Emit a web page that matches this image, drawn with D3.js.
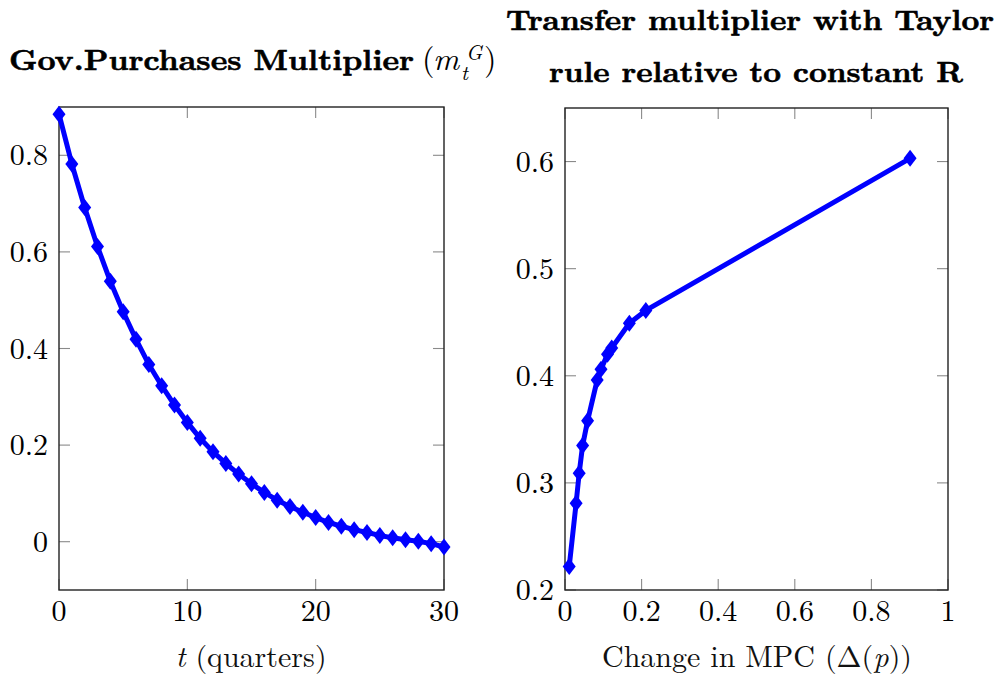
<!DOCTYPE html>
<html>
<head>
<meta charset="utf-8">
<script src="https://cdn.jsdelivr.net/npm/d3@7"></script>
<style>
  html, body { margin: 0; padding: 0; background: #fff; }
  svg { display: block; }
</style>
</head>
<body>
<svg id="chart" width="1004" height="676"></svg>
<script>
// Government purchases multiplier by quarter
const quarters = [0,1,2,3,4,5,6,7,8,9,10,11,12,13,14,15,16,17,18,19,20,21,22,23,24,25,26,27,28,29,30];
const govMultiplier = [0.885,0.782,0.692,0.611,0.539,0.476,0.419,0.367,0.323,0.283,0.247,0.214,0.186,0.162,0.140,0.120,0.102,0.086,0.073,0.061,0.050,0.040,0.032,0.025,0.019,0.013,0.008,0.004,0.001,-0.004,-0.011];

// Transfer multiplier (Taylor rule relative to constant R) by change in MPC
const mpcChange = [0.011,0.029,0.037,0.046,0.059,0.084,0.094,0.111,0.122,0.168,0.211,0.901];
const taylorRelative = [0.222,0.281,0.309,0.335,0.358,0.396,0.406,0.420,0.426,0.449,0.461,0.603];

// Axis ticks
const leftXTicks = [0,10,20,30];
const leftYTicks = [0,0.2,0.4,0.6,0.8];
const rightXTicks = [0,0.2,0.4,0.6,0.8,1];
const rightYTicks = [0.2,0.3,0.4,0.5,0.6];

const FONT = "'Latin Modern Roman', 'Liberation Serif', serif";
const svg = d3.select("#chart");
const fmt = v => (v === 0 ? "0" : String(+v.toFixed(2)));

function panel(opts) {
  const { x0, x1, y0, y1, xDomain, yDomain, xTicks, yTicks, xs, ys } = opts;
  const x = d3.scaleLinear().domain(xDomain).range([x0, x1]);
  const y = d3.scaleLinear().domain(yDomain).range([y1, y0]);
  const g = svg.append("g");
  const tickLen = 11;

  // inside ticks on all four sides
  const tk = g.append("g").attr("stroke", "#8a8a8a").attr("stroke-width", 1.1);
  xTicks.forEach(v => {
    tk.append("line").attr("x1", x(v)).attr("x2", x(v)).attr("y1", y1).attr("y2", y1 - tickLen);
    tk.append("line").attr("x1", x(v)).attr("x2", x(v)).attr("y1", y0).attr("y2", y0 + tickLen);
  });
  yTicks.forEach(v => {
    tk.append("line").attr("x1", x0).attr("x2", x0 + tickLen).attr("y1", y(v)).attr("y2", y(v));
    tk.append("line").attr("x1", x1).attr("x2", x1 - tickLen).attr("y1", y(v)).attr("y2", y(v));
  });

  // frame
  g.append("rect").attr("x", x0).attr("y", y0).attr("width", x1 - x0).attr("height", y1 - y0)
    .attr("fill", "none").attr("stroke", "#222").attr("stroke-width", 1.4);

  // tick labels
  g.append("g").selectAll("text").data(xTicks).join("text")
    .attr("x", d => x(d)).attr("y", y1 + 31)
    .attr("text-anchor", "middle").attr("font-family", FONT).attr("font-size", 30).text(fmt);
  g.append("g").selectAll("text").data(yTicks).join("text")
    .attr("x", x0 - 11).attr("y", d => y(d) + 10)
    .attr("text-anchor", "end").attr("font-family", FONT).attr("font-size", 30).text(fmt);

  // series
  const pts = xs.map((v, i) => [v, ys[i]]);
  g.append("path").datum(pts)
    .attr("fill", "none").attr("stroke", "#0000ff").attr("stroke-width", 5)
    .attr("stroke-linejoin", "round")
    .attr("d", d3.line().x(d => x(d[0])).y(d => y(d[1])));
  const hw = 6.5, hh = 8.5;
  g.append("g").selectAll("path").data(pts).join("path")
    .attr("fill", "#0000ff")
    .attr("d", d => {
      const cx = x(d[0]), cy = y(d[1]);
      return `M${cx},${cy - hh}L${cx + hw},${cy}L${cx},${cy + hh}L${cx - hw},${cy}Z`;
    });
  return { x, y };
}

panel({
  x0: 59, x1: 444, y0: 107, y1: 590,
  xDomain: [0, 30], yDomain: [-0.1, 0.9],
  xTicks: leftXTicks, yTicks: leftYTicks,
  xs: quarters, ys: govMultiplier
});

panel({
  x0: 565, x1: 948, y0: 108, y1: 590,
  xDomain: [0, 1], yDomain: [0.2, 0.65],
  xTicks: rightXTicks, yTicks: rightYTicks,
  xs: mpcChange, ys: taylorRelative
});

// bold heading text, stretched to the width of an extended bold face
function boldText(x, y, len, str) {
  return svg.append("text").attr("x", x).attr("y", y)
    .attr("font-family", FONT).attr("font-size", 29).attr("font-weight", "bold")
    .attr("stroke", "#000").attr("stroke-width", 0.6)
    .attr("textLength", len).attr("lengthAdjust", "spacingAndGlyphs")
    .text(str);
}

// left heading: bold words followed by the math (m_t^G)
boldText(9, 70, 405, "Gov.Purchases Multiplier");
const math = svg.append("g").attr("font-family", FONT);
math.append("text").attr("x", 422).attr("y", 70).attr("font-size", 32).text("(");
math.append("text").attr("x", 433).attr("y", 70).attr("font-size", 32).attr("font-style", "italic").text("m");
math.append("text").attr("x", 466).attr("y", 60).attr("font-size", 21).attr("font-style", "italic").text("G");
math.append("text").attr("x", 461).attr("y", 80).attr("font-size", 21).attr("font-style", "italic").text("t");
math.append("text").attr("x", 484).attr("y", 70).attr("font-size", 32).text(")");

// right heading, two lines
boldText(506, 30, 488, "Transfer multiplier with Taylor");
boldText(549, 82, 414, "rule relative to constant R");

// axis labels
const xl1 = svg.append("text").attr("x", 251).attr("y", 667).attr("text-anchor", "middle")
  .attr("font-family", FONT).attr("font-size", 30).attr("fill", "#111");
xl1.append("tspan").attr("font-style", "italic").text("t");
xl1.append("tspan").text(" (quarters)");

const xl2 = svg.append("text").attr("x", 757).attr("y", 667).attr("text-anchor", "middle")
  .attr("font-family", FONT).attr("font-size", 30).attr("fill", "#111");
xl2.append("tspan").text("Change in MPC (Δ(");
xl2.append("tspan").attr("font-style", "italic").text("p");
xl2.append("tspan").text("))");
</script>
</body>
</html>
